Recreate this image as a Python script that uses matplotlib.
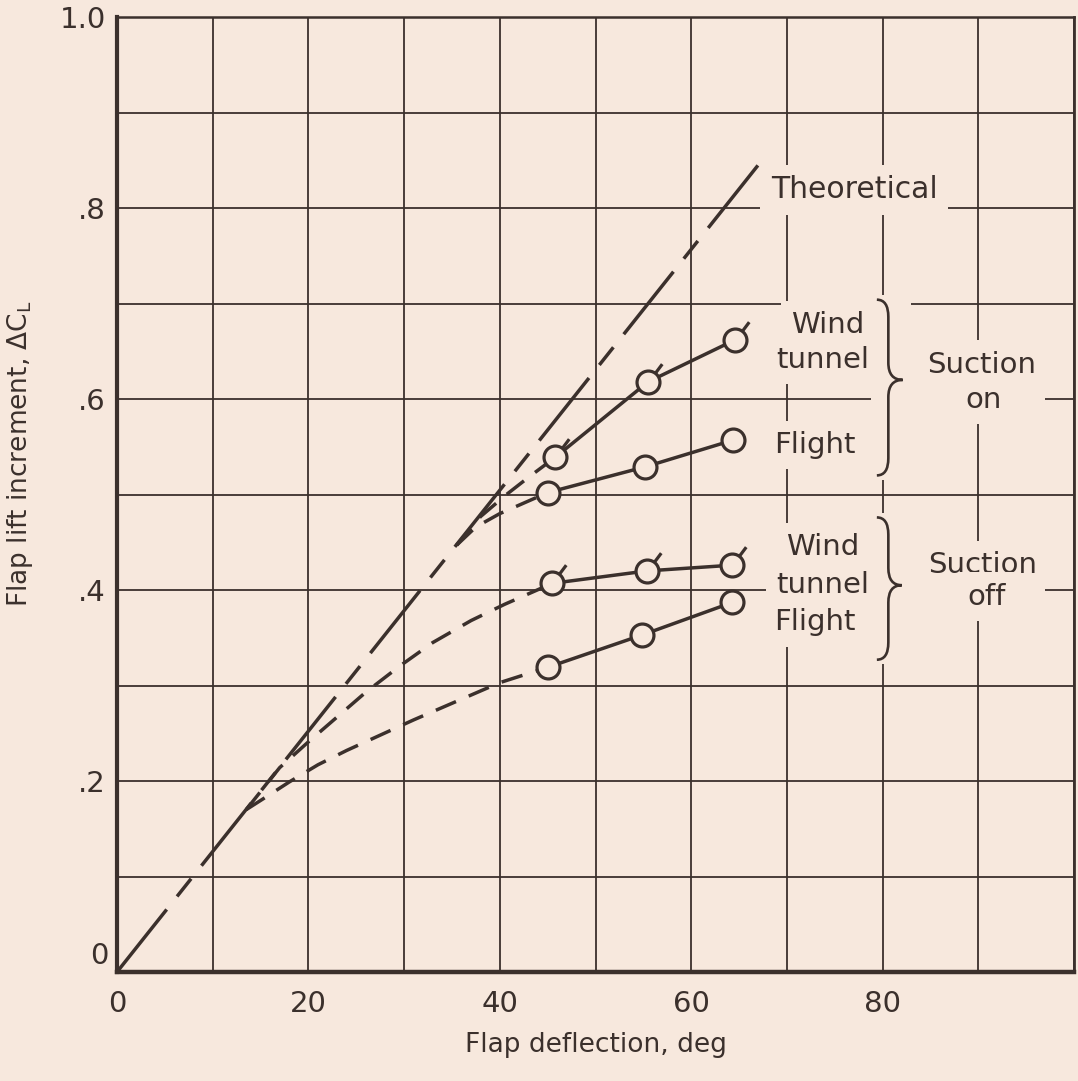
import matplotlib
matplotlib.use("Agg")
import matplotlib.pyplot as plt
from matplotlib.path import Path
from matplotlib.patches import PathPatch, Rectangle
import matplotlib.transforms as mtransforms

plt.rcParams['font.family'] = ['DejaVu Sans']
plt.rcParams['mathtext.default'] = 'regular'

PAPER = '#f7e8dd'
INK = '#3b302c'

# ---------------- data ----------------
theory_x = [0.0, 67.0]
theory_y = [0.0, 0.845]

# measured points: wind tunnel (flagged) and flight, suction on / off
wt_on_x = [45.8, 55.5, 64.6]
wt_on_y = [0.539, 0.618, 0.662]
fl_on_x = [45.0, 55.2, 64.4]
fl_on_y = [0.502, 0.529, 0.557]
wt_off_x = [45.5, 55.4, 64.3]
wt_off_y = [0.407, 0.420, 0.426]
fl_off_x = [45.0, 54.9, 64.3]
fl_off_y = [0.319, 0.353, 0.387]

# dashed fairings back to the theoretical line
wt_on_fair_x = [35.5, 38.0, 40.7, 43.0, 45.8]
wt_on_fair_y = [0.447, 0.477, 0.500, 0.518, 0.539]
fl_on_fair_x = [35.5, 37.5, 40.0, 42.5, 45.0]
fl_on_fair_y = [0.447, 0.466, 0.480, 0.491, 0.502]
wt_off_fair_x = [13.5, 17.0, 20.0, 23.0, 26.0, 29.5, 33.0, 37.0, 40.5, 45.5]
wt_off_fair_y = [0.170, 0.214, 0.241, 0.267, 0.293, 0.320, 0.345, 0.368, 0.385, 0.407]
fl_off_fair_x = [13.5, 16.0, 18.0, 21.0, 24.0, 27.5, 31.0, 34.0, 40.0, 45.0]
fl_off_fair_y = [0.170, 0.186, 0.199, 0.217, 0.232, 0.248, 0.264, 0.277, 0.303, 0.319]

x_ticks = list(range(0, 101, 10))
x_tick_labels = ['0', '', '20', '', '40', '', '60', '', '80', '', '']
y_ticks = [i / 10 for i in range(0, 11)]
y_tick_labels = ['0', '', '.2', '', '.4', '', '.6', '', '.8', '', '1.0']

# ---------------- figure ----------------
fig = plt.figure(figsize=(10.78, 10.81), dpi=100, facecolor=PAPER)
ax = fig.add_axes([117 / 1078, 1 - 972 / 1081, (1074 - 117) / 1078, (972 - 17) / 1081])
ax.set_facecolor(PAPER)
ax.set_xlim(0, 100)
ax.set_ylim(0, 1.0)

ax.set_xticks(x_ticks)
ax.set_xticklabels(x_tick_labels)
ax.set_yticks(y_ticks)
ax.set_yticklabels(y_tick_labels)
ax.tick_params(length=0, labelsize=21, colors=INK)
ax.tick_params(axis='x', pad=13)
ax.tick_params(axis='y', pad=8)
ax.grid(True, color=INK, linewidth=1.3)
ax.set_axisbelow(True)

# raise the y "0" label like the original
lab0 = ax.get_yticklabels()[0]
lab0.set_transform(lab0.get_transform() +
                   mtransforms.ScaledTranslation(2 / 72, 14 / 72, fig.dpi_scale_trans))

for side, lw in (('left', 3.0), ('bottom', 3.2), ('top', 1.8), ('right', 2.0)):
    ax.spines[side].set_linewidth(lw)
    ax.spines[side].set_color(INK)
    ax.spines[side].set_zorder(5)

ax.set_xlabel('Flap deflection, deg', fontsize=19, color=INK, labelpad=10)
ax.set_ylabel(r'Flap lift increment, $\Delta C_L$', fontsize=19, color=INK)
ax.yaxis.set_label_coords(-0.086, 0.543)

LW = 2.5
long_short = (23, 4.8, 6.5, 4.8)
short_dash = (6.3, 4.0)

# theoretical line
ax.plot(theory_x, theory_y, color=INK, lw=LW, dashes=long_short, zorder=3,
        solid_capstyle='butt', dash_capstyle='butt')

# fairings
for fx, fy in ((wt_on_fair_x, wt_on_fair_y), (fl_on_fair_x, fl_on_fair_y),
               (wt_off_fair_x, wt_off_fair_y), (fl_off_fair_x, fl_off_fair_y)):
    ax.plot(fx, fy, color=INK, lw=LW, dashes=short_dash, zorder=3,
            dash_capstyle='butt')

# measured curves
MS = 16.5
for px, py in ((wt_on_x, wt_on_y), (fl_on_x, fl_on_y),
               (wt_off_x, wt_off_y), (fl_off_x, fl_off_y)):
    ax.plot(px, py, color=INK, lw=LW, zorder=4, solid_capstyle='round')
    ax.plot(px, py, linestyle='none', marker='o', ms=MS, mfc=PAPER,
            mec=INK, mew=2.3, zorder=6)

# flags on the wind tunnel symbols
flag = Path([(0.6, 0.8), (1.2, 1.6)], [Path.MOVETO, Path.LINETO])
for px, py in ((wt_on_x, wt_on_y), (wt_off_x, wt_off_y)):
    ax.plot(px, py, linestyle='none', marker=flag, ms=MS * 1.6,
            mec=INK, mfc='none', mew=2.3, zorder=6)

# ---------------- labels ----------------
TS = 21
box = dict(boxstyle='square,pad=0.35', fc=PAPER, ec='none')


def label(x, y, s, ha='center'):
    ax.text(x, y, s, fontsize=TS, color=INK, ha=ha, va='center', zorder=7, bbox=box)


def mask(x0, x1, y0, y1):
    ax.add_patch(Rectangle((x0, y0), x1 - x0, y1 - y0, fc=PAPER, ec='none', zorder=2))


# blank the grid where the original lettering interrupts it
mask(70.4, 79.5, 0.620, 0.700)
mask(70.4, 79.5, 0.530, 0.585)
mask(70.4, 79.5, 0.350, 0.470)
mask(82.5, 97.0, 0.380, 0.450)
mask(82.5, 97.0, 0.580, 0.660)

ax.text(68.3, 0.819, 'Theoretical', fontsize=TS + 0.5, color=INK, ha='left',
        va='center', zorder=7, bbox=box)

label(74.3, 0.677, 'Wind')
label(73.7, 0.641, 'tunnel')
label(72.9, 0.552, 'Flight')
label(90.3, 0.636, 'Suction')
label(90.5, 0.599, 'on')

label(73.7, 0.445, 'Wind')
label(73.7, 0.405, 'tunnel')
label(72.9, 0.366, 'Flight')
label(90.4, 0.426, 'Suction')
label(90.9, 0.393, 'off')


def brace(x0, xm, xt, y0, y1, ytip, d=0.018):
    verts = [(x0, y1), (xm, y1), (xm, y1 - d),
             (xm, ytip + d),
             (xm, ytip), (xt, ytip),
             (xm, ytip), (xm, ytip - d),
             (xm, y0 + d),
             (xm, y0), (x0, y0)]
    codes = [Path.MOVETO, Path.CURVE3, Path.CURVE3,
             Path.LINETO,
             Path.CURVE3, Path.CURVE3,
             Path.CURVE3, Path.CURVE3,
             Path.LINETO,
             Path.CURVE3, Path.CURVE3]
    mask(x0 - 0.6, xt + 0.9, y0 - 0.005, y1 + 0.005)
    ax.add_patch(PathPatch(Path(verts, codes), fc='none', ec=INK, lw=1.9, zorder=7))


brace(79.4, 80.6, 82.1, 0.520, 0.704, 0.620)
brace(79.4, 80.6, 82.0, 0.327, 0.476, 0.405)

fig.savefig('out.png', dpi=100, facecolor=PAPER)
